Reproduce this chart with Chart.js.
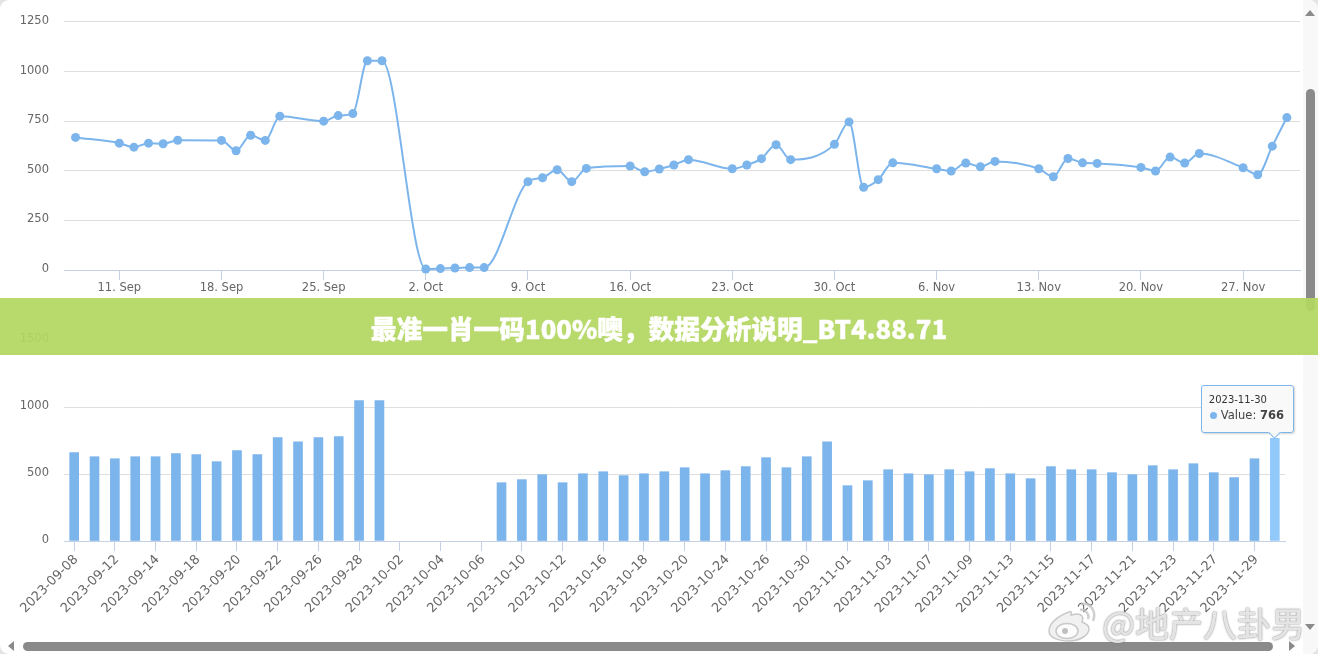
<!DOCTYPE html>
<html>
<head>
<meta charset="utf-8">
<script src="https://cdn.jsdelivr.net/npm/chart.js@4/dist/chart.umd.min.js"></script>
<style>
html, body { margin: 0; padding: 0; background: #fff; }
#page { position: relative; width: 1318px; height: 654px; overflow: hidden; background: #e4e4e4; }
#panel { position: absolute; left: 0; top: 0; width: 1318px; height: 654px; background: #fff; border-radius: 9px; overflow: hidden; }
canvas { position: absolute; left: 0; }
#lineChart { top: 0; }
#barChart { top: 300px; }
#vtrack { position: absolute; left: 1303px; top: 0; width: 15px; height: 654px; background: #f8f8f8; }
#vthumb { position: absolute; left: 1306px; top: 89px; width: 9px; height: 222px; background: #8a8a8a; border-radius: 5px; }
#hthumb { position: absolute; left: 23px; top: 642px; width: 1250px; height: 9px; background: #8a8a8a; border-radius: 5px; }
.arrow { position: absolute; width: 0; height: 0; border-style: solid; border-color: transparent; }
#banner { position: absolute; left: 0; top: 298px; width: 1318px; height: 57px; background: rgba(179,214,97,0.93);
  color: #fff; font: 900 25.7px "Noto Sans CJK SC", sans-serif; -webkit-text-stroke: 0.4px #fff; text-align: center; line-height: 60px; }
#tip { position: absolute; box-sizing: border-box; width: 93px; height: 48px; background: rgba(249,249,249,0.96);
  border: 1px solid #7cb5ec; border-radius: 3px; box-shadow: 1px 1px 2px rgba(0,0,0,0.18); font-family: "DejaVu Sans", sans-serif; color: #333; }
#tipCaret { position: absolute; width: 8px; height: 8px; background: #f9f9f9; border-right: 1px solid #7cb5ec; border-bottom: 1px solid #7cb5ec; transform: rotate(45deg); }
#tipTitle { position: absolute; left: 7px; top: 8px; font-size: 10px; white-space: nowrap; }
#tipBody { position: absolute; left: 8px; top: 22px; font-size: 11.5px; white-space: nowrap; color: #444; }
#tipBody i { display: inline-block; width: 7px; height: 7px; border-radius: 50%; background: #7cb5ec; margin-right: 4px; }
#mark { position: absolute; left: 1102px; top: 598px; font: 500 34px "Noto Sans CJK SC", sans-serif; color: rgba(238,238,238,0.9);
  text-shadow: 0 0 2px rgba(110,110,110,0.75), 0 0 1px rgba(130,130,130,0.6); white-space: nowrap; }
#logo { position: absolute; left: 1047px; top: 602px; }
</style>
</head>
<body>
<div id="page">
 <div id="panel">
  <canvas id="lineChart" width="1303" height="298"></canvas>
  <canvas id="barChart" width="1303" height="354"></canvas>
  <div id="vtrack"></div>
  <div id="vthumb"></div>
  <div id="hthumb"></div>
  <div class="arrow" style="left:1305px;top:10px;border-width:0 5px 6px 5px;border-bottom-color:#8a8a8a"></div>
  <div class="arrow" style="left:1305px;top:624px;border-width:6px 5px 0 5px;border-top-color:#8a8a8a"></div>
  <div class="arrow" style="left:8px;top:641px;border-width:5px 6px 5px 0;border-right-color:#8a8a8a"></div>
  <div class="arrow" style="left:1289px;top:641px;border-width:5px 0 5px 6px;border-left-color:#8a8a8a"></div>
  <div id="banner">最准一肖一码100%噢，数据分析说明_BT4.88.71</div>
  <svg id="logo" width="54" height="40" viewBox="0 0 54 40">
    <path d="M22 10 C10 14 2 22 2 29 C2 36 12 39 22 39 C33 39 42 33 42 27 C42 22 37 21 35 20 C37 15 35 12 30 12 C27 12 25 13 24 13 C25 10 24 9 22 10 Z" fill="rgba(240,240,240,0.9)" stroke="rgba(170,170,170,0.6)" stroke-width="1.5"/>
    <ellipse cx="20" cy="29" rx="11" ry="7.5" fill="rgba(255,255,255,0.85)" stroke="rgba(170,170,170,0.6)" stroke-width="1.5"/>
    <circle cx="18" cy="29" r="3" fill="rgba(165,165,165,0.7)"/>
    <path d="M33 8 C38 7 43 12 41 17 M34 2 C43 0 50 9 46 19" fill="none" stroke="rgba(195,195,195,0.8)" stroke-width="2.5"/>
  </svg>
  <div id="mark">@地产八卦男</div>
 </div>
</div>
<script>
// daily values (business days only)
const dates = [
  '2023-09-08','2023-09-11','2023-09-12','2023-09-13','2023-09-14','2023-09-15',
  '2023-09-18','2023-09-19','2023-09-20','2023-09-21','2023-09-22',
  '2023-09-25','2023-09-26','2023-09-27','2023-09-28','2023-09-29',
  '2023-10-02','2023-10-03','2023-10-04','2023-10-05','2023-10-06',
  '2023-10-09','2023-10-10','2023-10-11','2023-10-12','2023-10-13',
  '2023-10-16','2023-10-17','2023-10-18','2023-10-19','2023-10-20',
  '2023-10-23','2023-10-24','2023-10-25','2023-10-26','2023-10-27',
  '2023-10-30','2023-10-31','2023-11-01','2023-11-02','2023-11-03',
  '2023-11-06','2023-11-07','2023-11-08','2023-11-09','2023-11-10',
  '2023-11-13','2023-11-14','2023-11-15','2023-11-16','2023-11-17',
  '2023-11-20','2023-11-21','2023-11-22','2023-11-23','2023-11-24',
  '2023-11-27','2023-11-28','2023-11-29','2023-11-30'
];
const lineValues = [
  668, 639,619,639,636,654, 653,601,679,653,775, 750,778,788,1054,1054,
  5,7,10,12,12, 445,465,505,445,512, 524,495,509,529,556, 510,529,561,631,556,
  633,746,417,455,540, 510,499,539,520,547, 510,470,562,540,537, 517,499,569,539,587,
  515,480,624,768
];
const barValues = [
  659, 629,614,629,629,652, 644,592,674,644,771, 741,771,779,1047,1047,
  null,null,null,null,null, 435,458,495,435,502, 517,488,502,517,547, 502,525,555,622,547,
  629,741,413,450,532, 502,495,532,517,540, 502,465,555,532,532, 510,495,562,532,577,
  510,473,614,766
];
const weekTicks = ['2023-09-11','2023-09-18','2023-09-25','2023-10-02','2023-10-09','2023-10-16','2023-10-23','2023-10-30','2023-11-06','2023-11-13','2023-11-20','2023-11-27'];
const weekLabels = ['11. Sep','18. Sep','25. Sep','2. Oct','9. Oct','16. Oct','23. Oct','30. Oct','6. Nov','13. Nov','20. Nov','27. Nov'];
const lineTicks = [0, 250, 500, 750, 1000, 1250];
const barTicks = [0, 500, 1000, 1500];

const DAY = 86400000;
const blue = '#7cb5ec';
const gridColor = '#dedede';
const axisColor = '#c4d0e4';
const textColor = '#666666';
const fontFamily = '"DejaVu Sans", sans-serif';
Chart.defaults.animation = false;
Chart.defaults.font.family = fontFamily;
Chart.defaults.color = textColor;

const toTime = d => Date.parse(d + 'T00:00:00Z');

function yAxis(max, values) {
  return {
    min: 0,
    max: max,
    afterBuildTicks: s => { s.ticks = values.map(v => ({ value: v })); },
    afterFit: s => { s.width = 64; },
    border: { display: false },
    grid: { color: gridColor, lineWidth: 1, drawTicks: false },
    ticks: { padding: 15, labelOffset: -1, font: { size: 11.5 }, color: textColor, callback: v => String(v) }
  };
}

new Chart(document.getElementById('lineChart'), {
  type: 'line',
  data: {
    datasets: [{
      data: dates.map((d, i) => ({ x: toTime(d), y: lineValues[i] })),
      borderColor: blue,
      backgroundColor: blue,
      borderWidth: 2,
      cubicInterpolationMode: 'monotone',
      pointRadius: 4.5,
      pointBorderWidth: 0,
      clip: false
    }]
  },
  options: {
    responsive: false,
    layout: { autoPadding: false, padding: { top: 21, right: 3, bottom: 0, left: 0 } },
    plugins: { legend: { display: false }, tooltip: { enabled: false } },
    scales: {
      x: {
        type: 'linear',
        min: toTime(dates[0]) - 0.79 * DAY,
        max: toTime(dates[dates.length - 1]) + 0.9 * DAY,
        afterBuildTicks: s => { s.ticks = weekTicks.map(d => ({ value: toTime(d) })); },
        afterFit: s => { s.height = 28; },
        border: { color: axisColor, width: 1 },
        grid: { drawOnChartArea: false, tickLength: 10, tickColor: axisColor },
        ticks: {
          autoSkip: false,
          maxRotation: 0,
          padding: 1,
          font: { size: 11.5 },
          color: textColor,
          callback: (v) => weekLabels[weekTicks.findIndex(d => toTime(d) === v)]
        }
      },
      y: yAxis(1250, lineTicks)
    }
  }
});

function showTip(tip, chart) {
  if (document.getElementById('tip')) return;
  const el = document.createElement('div');
  el.id = 'tip';
  el.style.left = (chart.canvas.offsetLeft + tip.tooltip.caretX - 74) + 'px';
  el.style.top = (chart.canvas.offsetTop + tip.tooltip.caretY - 53) + 'px';
  const label = tip.tooltip.dataPoints[0];
  el.innerHTML = '<div id="tipCaret" style="left:68px;top:42px"></div>' +
    '<div id="tipTitle">' + label.label + '</div>' +
    '<div id="tipBody"><i></i>Value: <b>' + label.formattedValue + '</b></div>';
  document.getElementById('panel').appendChild(el);
}

const barChart = new Chart(document.getElementById('barChart'), {
  type: 'bar',
  data: {
    labels: dates,
    datasets: [{
      data: barValues,
      backgroundColor: blue,
      hoverBackgroundColor: '#92c9fb',
      barThickness: 9
    }]
  },
  options: {
    responsive: false,
    layout: { padding: { top: 40, right: 18, bottom: 0, left: 0 } },
    plugins: {
      legend: { display: false },
      tooltip: { enabled: false, external: ctx => { if (ctx.tooltip.opacity) showTip(ctx, ctx.chart); } }
    },
    scales: {
      x: {
        afterBuildTicks: s => { s.ticks = s.ticks.filter((t, i) => i % 2 === 0); },
        afterFit: s => { s.height = 113; },
        border: { color: axisColor, width: 1 },
        grid: { drawOnChartArea: false, offset: false, tickLength: 10, tickColor: axisColor },
        ticks: { autoSkip: false, minRotation: 45, maxRotation: 45, padding: 1, labelOffset: 2, font: { size: 13 }, color: textColor }
      },
      y: yAxis(1500, barTicks)
    }
  }
});

const active = [{ datasetIndex: 0, index: dates.length - 1 }];
barChart.setActiveElements(active);
barChart.tooltip.setActiveElements(active, { x: 0, y: 0 });
barChart.update();
</script>
</body>
</html>
